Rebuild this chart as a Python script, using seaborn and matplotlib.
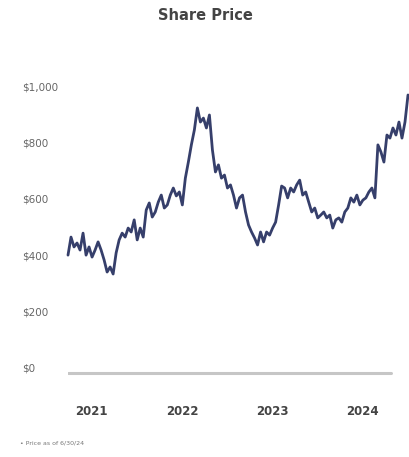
import matplotlib
matplotlib.use("Agg")
import matplotlib.pyplot as plt
import matplotlib.transforms as mtransforms
import pandas as pd
import seaborn as sns

# Share price closes at regular intervals (USD)
prices = [
    418, 482, 447, 461, 436, 496, 418, 447, 411, 436,
    465, 436, 401, 358, 376, 351, 426, 472, 496, 482,
    514, 500, 543, 472, 514, 482, 578, 603, 553, 571,
    606, 631, 585, 596, 631, 656, 628, 642, 596, 691,
    748, 809, 862, 940, 890, 904, 869, 915, 791, 713,
    738, 691, 702, 656, 667, 631, 585, 621, 631, 571,
    525, 500, 479, 454, 500, 465, 500, 489, 514, 535,
    596, 663, 656, 621, 656, 642, 667, 684, 631, 642,
    606, 571, 585, 550, 560, 571, 550, 560, 514, 543,
    550, 535, 571, 585, 621, 606, 631, 596, 613, 621,
    642, 656, 621, 809, 784, 748, 844, 833, 869, 844,
    890, 833, 890, 986,
]
first_date = "2020-09-27"
last_date = "2024-07-03"

y_ticks = [0, 200, 400, 600, 800, 1000]
y_tick_labels = ["$0", "$200", "$400", "$600", "$800", "$1,000"]
year_ticks = ["2021-01-01", "2022-01-01", "2023-01-01", "2024-01-01"]
year_labels = ["2021", "2022", "2023", "2024"]

title = "Share Price"
footnote = "\u2022 Price as of 6/30/24"

dates = pd.date_range(first_date, last_date, periods=len(prices))
df = pd.DataFrame({"date": dates, "price": prices})

sns.set_style("white")
plt.rcParams["font.family"] = ["DejaVu Sans"]

W, H = 409, 457
fig = plt.figure(figsize=(W / 100, H / 100), dpi=100)
fig.patch.set_facecolor("white")

ax = fig.add_axes([68 / W, 1 - 390 / H, 340 / W, 330 / H])
ax.set_facecolor("white")

line_color = "#363f6b"
sns.lineplot(data=df, x="date", y="price", ax=ax, color=line_color,
             linewidth=2.0, clip_on=False)

# light baseline at zero
ax.axhline(0, xmin=0, xmax=0.95, color="#c6c6c6", linewidth=2.2,
           solid_capstyle="round", zorder=1)

ax.set_xlim(dates[0], dates[-1])
ax.set_ylim(-60.3, 1110)

for s in ax.spines.values():
    s.set_visible(False)

ax.set_yticks(y_ticks)
ax.set_yticklabels(y_tick_labels)
ax.tick_params(axis="y", length=0, pad=33, labelsize=7.5, labelcolor="#666666")
offset = mtransforms.ScaledTranslation(0, 5 / 100, fig.dpi_scale_trans)
for lab in ax.get_yticklabels():
    lab.set_horizontalalignment("left")
    lab.set_transform(lab.get_transform() + offset)

ax.set_xticks(pd.to_datetime(year_ticks))
ax.set_xticklabels(year_labels)
ax.tick_params(axis="x", length=0, pad=11, labelsize=8.5, labelcolor="#444444")
for lab in ax.get_xticklabels():
    lab.set_fontweight("bold")

ax.set_xlabel("")
ax.set_ylabel("")
ax.grid(False)

fig.text(205 / W, 1 - 15 / H, title, ha="center", va="center",
         fontsize=10.5, fontweight="bold", color="#444444")
fig.text(20 / W, 1 - 443 / H, footnote, ha="left", va="center",
         fontsize=4.5, color="#777777")

fig.savefig("out.png", dpi=100, facecolor="white")
